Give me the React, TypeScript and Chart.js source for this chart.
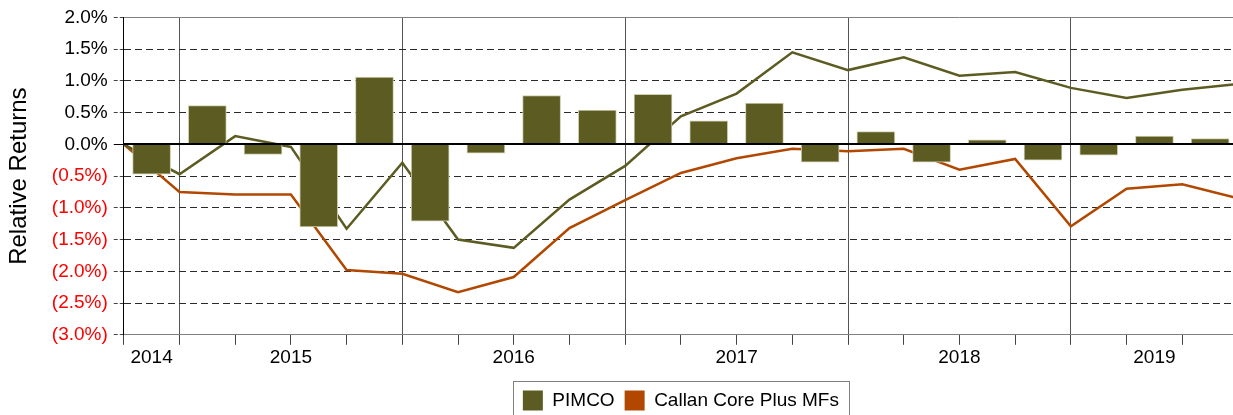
import React, { useEffect, useRef } from 'react';
import { Chart, registerables } from 'chart.js';

Chart.register(...registerables);

// ---- Data (relative returns, %) ----
const quarters = [
  '4Q14',
  '1Q15', '2Q15', '3Q15', '4Q15',
  '1Q16', '2Q16', '3Q16', '4Q16',
  '1Q17', '2Q17', '3Q17', '4Q17',
  '1Q18', '2Q18', '3Q18', '4Q18',
  '1Q19', '2Q19', '3Q19',
];
const years = ['2014', '2015', '2016', '2017', '2018', '2019'];
const quartersPerYear = [1, 4, 4, 4, 4, 3];

// PIMCO quarterly relative return (bars)
const pimcoQuarterly = [
  -0.47, 0.61, -0.16, -1.3, 1.06, -1.21, -0.14, 0.77, 0.54, 0.79,
  0.37, 0.65, -0.28, 0.2, -0.28, 0.07, -0.25, -0.17, 0.13, 0.09,
];
// Cumulative relative returns at quarter ends (start + 20 quarter ends)
const pimcoCumulative = [
  0, -0.47, 0.13, -0.04, -1.33, -0.29, -1.5, -1.63, -0.87, -0.34, 0.44,
  0.8, 1.45, 1.17, 1.37, 1.08, 1.14, 0.89, 0.73, 0.86, 0.95,
];
const callanCumulative = [
  0, -0.75, -0.79, -0.79, -1.98, -2.04, -2.33, -2.09, -1.32, -0.88, -0.45,
  -0.22, -0.07, -0.11, -0.07, -0.4, -0.23, -1.29, -0.7, -0.63, -0.85,
];

const yMin = -3;
const yMax = 2;
const yStep = 0.5;

const OLIVE = '#5C5C22';
const ORANGE = '#B24800';
const FONT = 'Liberation Sans, Arial, Helvetica, sans-serif';

export default function App() {
  const ref = useRef<HTMLCanvasElement | null>(null);

  useEffect(() => {
    const canvas = ref.current;
    if (!canvas) return;

    const nQ = quarters.length;
    const yearStarts: number[] = [];
    const yearCenters: number[] = [];
    let acc = 0;
    quartersPerYear.forEach((q) => {
      yearStarts.push(acc);
      yearCenters.push(acc + q / 2);
      acc += q;
    });
    const boundaries = yearStarts.slice(1);
    const labelAt = new Map<number, string>();
    yearCenters.forEach((c, i) => labelAt.set(c, years[i]));
    const tickValues = Array.from(
      new Set([...Array.from({ length: nQ + 1 }, (_, i) => i), ...yearCenters])
    ).sort((a, b) => a - b);

    const isZero = (v: number) => Math.abs(v) < 1e-9;
    const isEdge = (v: number) => Math.abs(v - yMax) < 1e-9 || Math.abs(v - yMin) < 1e-9;

    const zeroLine = {
      id: 'zeroLine',
      afterDatasetsDraw(chart: any) {
        const { ctx, chartArea, scales } = chart;
        const y = Math.round(scales.y.getPixelForValue(0));
        ctx.save();
        ctx.strokeStyle = '#000';
        ctx.lineWidth = 2;
        ctx.beginPath();
        ctx.moveTo(chartArea.left, y);
        ctx.lineTo(chartArea.right, y);
        ctx.stroke();
        ctx.restore();
      },
    };

    const legendBorder = {
      id: 'legendBorder',
      afterDraw(chart: any) {
        const boxes = chart.legend && chart.legend.legendHitBoxes;
        if (!boxes || !boxes.length) return;
        const left = Math.min(...boxes.map((b: any) => b.left)) - 10;
        const right = Math.max(...boxes.map((b: any) => b.left + b.width)) + 10;
        const top = Math.min(...boxes.map((b: any) => b.top)) - 9;
        const bottom = Math.max(...boxes.map((b: any) => b.top + b.height)) + 9;
        const { ctx } = chart;
        ctx.save();
        ctx.strokeStyle = '#808080';
        ctx.lineWidth = 1;
        ctx.strokeRect(Math.round(left) + 0.5, Math.round(top) + 0.5, Math.round(right - left), Math.round(bottom - top));
        ctx.restore();
      },
    };

    const chart = new Chart(canvas, {
      type: 'bar',
      data: {
        datasets: [
          {
            type: 'bar',
            label: 'PIMCO',
            data: pimcoQuarterly.map((v, i) => ({ x: i + 0.5, y: v })),
            backgroundColor: OLIVE,
            borderColor: '#cfcfb0',
            borderWidth: 1,
            barThickness: 38,
            order: 0,
          } as any,
          {
            type: 'line',
            label: 'PIMCO cumulative',
            data: pimcoCumulative.map((v, i) => ({ x: i, y: v })),
            borderColor: OLIVE,
            backgroundColor: OLIVE,
            borderWidth: 2.5,
            pointRadius: 0,
            tension: 0,
            order: 1,
          } as any,
          {
            type: 'line',
            label: 'Callan Core Plus MFs',
            data: callanCumulative.map((v, i) => ({ x: i, y: v })),
            borderColor: ORANGE,
            backgroundColor: ORANGE,
            borderWidth: 2.5,
            pointRadius: 0,
            tension: 0,
            order: 2,
          } as any,
        ],
      },
      options: {
        animation: false,
        responsive: false,
        maintainAspectRatio: false,
        layout: { padding: { top: 15, left: 0, right: 12, bottom: 9.5 } },
        plugins: {
          tooltip: { enabled: false },
          legend: {
            position: 'bottom',
            fullSize: false,
            labels: {
              boxWidth: 20,
              boxHeight: 20,
              padding: 10,
              color: '#000',
              font: { size: 19, family: FONT },
              generateLabels: () => [
                { text: 'PIMCO', fillStyle: OLIVE, strokeStyle: OLIVE, lineWidth: 0, hidden: false, datasetIndex: 0 },
                { text: 'Callan Core Plus MFs', fillStyle: ORANGE, strokeStyle: ORANGE, lineWidth: 0, hidden: false, datasetIndex: 2 },
              ],
            },
          },
        },
        scales: {
          x: {
            type: 'linear',
            min: 0,
            max: nQ,
            offset: false,
            afterBuildTicks: (scale: any) => {
              scale.ticks = tickValues.map((v) => ({ value: v }));
            },
            ticks: {
              autoSkip: false,
              maxRotation: 0,
              minRotation: 0,
              padding: 2,
              color: '#000',
              font: { size: 19, family: FONT },
              callback: (v: any) => labelAt.get(Number(v)) ?? '',
            },
            grid: {
              offset: false,
              drawOnChartArea: true,
              drawTicks: true,
              tickLength: 10,
              lineWidth: 1,
              color: (ctx: any) =>
                ctx.tick && boundaries.includes(ctx.tick.value) ? '#555' : 'rgba(0,0,0,0)',
              tickColor: (ctx: any) =>
                ctx.tick && Number.isInteger(ctx.tick.value) ? '#444' : 'rgba(0,0,0,0)',
            },
            border: { display: true, color: '#808080', width: 1 },
            title: { display: true, text: '', font: { size: 7 }, padding: { top: 0.5, bottom: 0 } },
          },
          y: {
            type: 'linear',
            min: yMin,
            max: yMax,
            ticks: {
              stepSize: yStep,
              padding: 6,
              font: { size: 19, family: FONT },
              color: (ctx: any) => (ctx.tick && ctx.tick.value < -1e-9 ? '#FF0000' : '#000'),
              callback: (v: any) => {
                const n = Number(v);
                const s = Math.abs(n).toFixed(1) + '%';
                return n < -1e-9 ? '(' + s + ')' : s;
              },
            },
            grid: {
              tickLength: 10,
              lineWidth: 1,
              color: (ctx: any) => {
                const v = ctx.tick ? ctx.tick.value : NaN;
                if (isZero(v)) return '#000';
                if (isEdge(v)) return '#808080';
                return '#2a2a2a';
              },
              tickColor: (ctx: any) => (ctx.tick && isZero(ctx.tick.value) ? '#000' : '#444'),
              tickBorderDash: (ctx: any) => (ctx.tick && isZero(ctx.tick.value) ? [] : [4, 2]),
            },
            border: {
              display: true,
              color: '#000',
              width: 1,
              dash: (ctx: any) => {
                if (!ctx.tick) return [];
                const v = ctx.tick.value;
                return isZero(v) || isEdge(v) ? [] : [7, 4];
              },
            },
            title: {
              display: true,
              text: 'Relative Returns',
              color: '#000',
              font: { size: 24, family: FONT },
              padding: { top: 5, bottom: 12 },
            },
          },
        },
      } as any,
      plugins: [zeroLine, legendBorder],
    });

    return () => chart.destroy();
  }, []);

  return (
    <div
      style={{
        position: 'absolute',
        left: 0,
        top: 0,
        width: 1233,
        height: 415,
        overflow: 'hidden',
        background: '#fff',
      }}
    >
      <canvas ref={ref} width={1250} height={430} style={{ display: 'block' }} />
    </div>
  );
}
